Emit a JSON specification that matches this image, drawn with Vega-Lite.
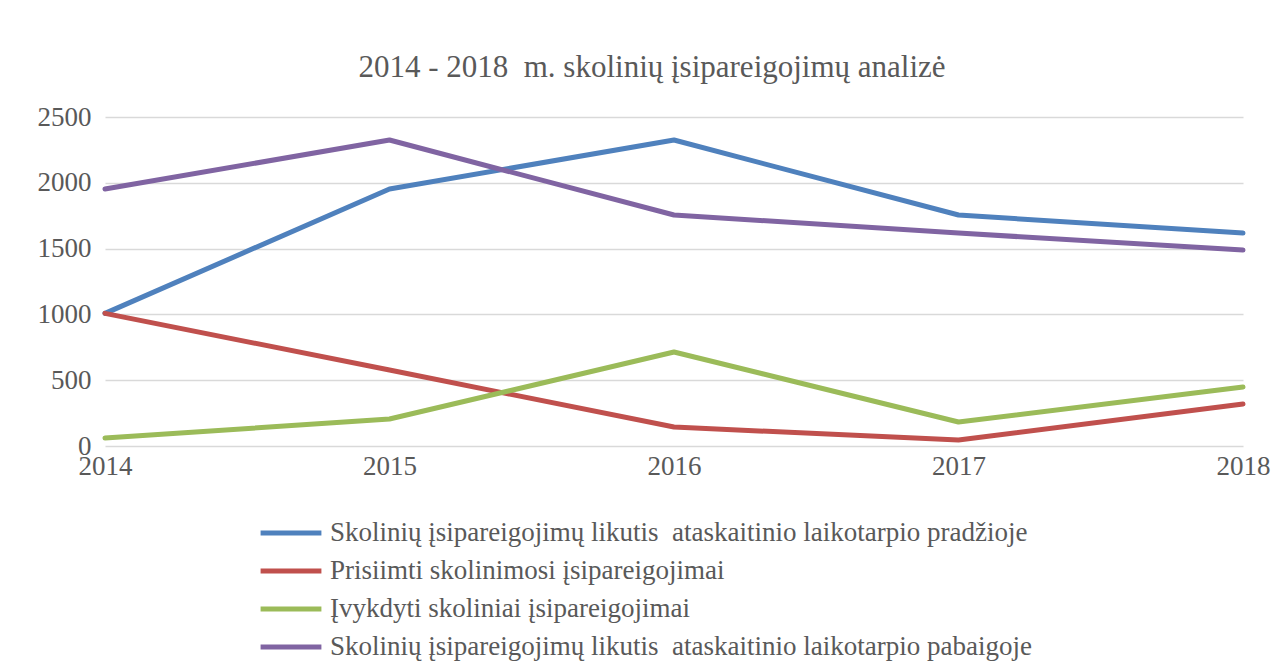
{
  "$schema": "https://vega.github.io/schema/vega-lite/v6.json",
  "width": 1138,
  "height": 329,
  "autosize": {"type": "none"},
  "padding": {"left": 105, "top": 117, "right": 45, "bottom": 215},
  "background": "white",
  "title": {
    "text": "2014 - 2018\u00a0 m. skolinių įsipareigojimų analizė",
    "font": "Liberation Serif",
    "fontSize": 31,
    "fontWeight": "normal",
    "color": "#595959",
    "anchor": "middle",
    "dx": -22,
    "baseline": "alphabetic",
    "offset": -5
  },
  "config": {
    "view": {"stroke": null},
    "font": "Liberation Serif"
  },
  "data": {
    "values": [
      {"year": "2014", "series": "Skolinių įsipareigojimų likutis\u00a0 ataskaitinio laikotarpio pradžioje", "value": 1008},
      {"year": "2015", "series": "Skolinių įsipareigojimų likutis\u00a0 ataskaitinio laikotarpio pradžioje", "value": 1953},
      {"year": "2016", "series": "Skolinių įsipareigojimų likutis\u00a0 ataskaitinio laikotarpio pradžioje", "value": 2325},
      {"year": "2017", "series": "Skolinių įsipareigojimų likutis\u00a0 ataskaitinio laikotarpio pradžioje", "value": 1755},
      {"year": "2018", "series": "Skolinių įsipareigojimų likutis\u00a0 ataskaitinio laikotarpio pradžioje", "value": 1618},
      {"year": "2014", "series": "Prisiimti skolinimosi įsipareigojimai", "value": 1008},
      {"year": "2015", "series": "Prisiimti skolinimosi įsipareigojimai", "value": 577},
      {"year": "2016", "series": "Prisiimti skolinimosi įsipareigojimai", "value": 144},
      {"year": "2017", "series": "Prisiimti skolinimosi įsipareigojimai", "value": 46},
      {"year": "2018", "series": "Prisiimti skolinimosi įsipareigojimai", "value": 319},
      {"year": "2014", "series": "Įvykdyti skoliniai įsipareigojimai", "value": 61},
      {"year": "2015", "series": "Įvykdyti skoliniai įsipareigojimai", "value": 205},
      {"year": "2016", "series": "Įvykdyti skoliniai įsipareigojimai", "value": 714},
      {"year": "2017", "series": "Įvykdyti skoliniai įsipareigojimai", "value": 182},
      {"year": "2018", "series": "Įvykdyti skoliniai įsipareigojimai", "value": 448},
      {"year": "2014", "series": "Skolinių įsipareigojimų likutis\u00a0 ataskaitinio laikotarpio pabaigoje", "value": 1953},
      {"year": "2015", "series": "Skolinių įsipareigojimų likutis\u00a0 ataskaitinio laikotarpio pabaigoje", "value": 2325},
      {"year": "2016", "series": "Skolinių įsipareigojimų likutis\u00a0 ataskaitinio laikotarpio pabaigoje", "value": 1755},
      {"year": "2017", "series": "Skolinių įsipareigojimų likutis\u00a0 ataskaitinio laikotarpio pabaigoje", "value": 1618},
      {"year": "2018", "series": "Skolinių įsipareigojimų likutis\u00a0 ataskaitinio laikotarpio pabaigoje", "value": 1489}
    ]
  },
  "mark": {"type": "line", "strokeWidth": 5, "strokeCap": "round", "strokeJoin": "round"},
  "encoding": {
    "x": {
      "field": "year",
      "type": "ordinal",
      "scale": {"type": "point", "padding": 0},
      "axis": {
        "title": null,
        "labelAngle": 0,
        "labelFont": "Liberation Serif",
        "labelFontSize": 27,
        "labelColor": "#595959",
        "labelPadding": 7,
        "ticks": false,
        "domain": false,
        "grid": false
      }
    },
    "y": {
      "field": "value",
      "type": "quantitative",
      "scale": {"domain": [0, 2500]},
      "axis": {
        "title": null,
        "values": [0, 500, 1000, 1500, 2000, 2500],
        "format": "d",
        "labelFont": "Liberation Serif",
        "labelFontSize": 27,
        "labelColor": "#595959",
        "labelPadding": 14,
        "ticks": false,
        "domain": false,
        "grid": true,
        "gridColor": "#d9d9d9",
        "gridWidth": 1.5
      }
    },
    "color": {
      "field": "series",
      "type": "nominal",
      "sort": null,
      "scale": {
        "domain": [
          "Skolinių įsipareigojimų likutis\u00a0 ataskaitinio laikotarpio pradžioje",
          "Prisiimti skolinimosi įsipareigojimai",
          "Įvykdyti skoliniai įsipareigojimai",
          "Skolinių įsipareigojimų likutis\u00a0 ataskaitinio laikotarpio pabaigoje"
        ],
        "range": ["#4f81bd", "#c0504d", "#9bbb59", "#8064a2"]
      },
      "legend": {
        "title": null,
        "orient": "none",
        "legendX": 153,
        "legendY": 400,
        "direction": "vertical",
        "symbolType": "stroke",
        "symbolSize": 3700,
        "symbolStrokeWidth": 5,
        "clipHeight": 32,
        "rowPadding": 6,
        "labelFont": "Liberation Serif",
        "labelFontSize": 27,
        "labelColor": "#595959",
        "labelOffset": 6,
        "labelLimit": 0
      }
    }
  }
}
